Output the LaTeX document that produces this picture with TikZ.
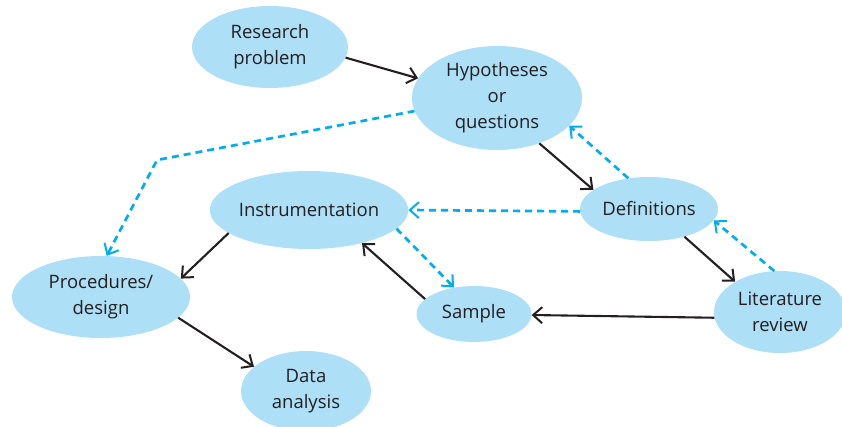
\documentclass[tikz,border=0pt]{standalone}
\usepackage{fontspec}
\setmainfont{Open Sans}
\usetikzlibrary{arrows.meta,shapes.geometric}
\definecolor{bubble}{HTML}{ADDFF7}
\definecolor{dashblue}{HTML}{00AEEF}
\definecolor{ink}{HTML}{231F20}
\tikzset{
  bub/.style={ellipse, fill=bubble, draw=none, inner sep=0pt, align=center,
    text=ink, font=\fontsize{18.5}{26}\selectfont},
  solidarrow/.style={draw=ink, line width=2.1pt,
    -{Straight Barb[length=9pt,width=16pt,line width=2pt]}},
  dasharrow/.style={draw=dashblue, line width=2.7pt, dash pattern=on 7pt off 5pt,
    -{Straight Barb[length=9pt,width=16pt,line width=2pt]}},
}
\begin{document}
\begin{tikzpicture}[x=1pt,y=-1pt]
\useasboundingbox (0,0) rectangle (842,426);
\clip (0,0) rectangle (842,426);
\node[bub, minimum width=156pt, minimum height=82pt] (res) at (270,47) {Research\\problem};
\node[bub, minimum width=170pt, minimum height=104pt] (hyp) at (497,98) {Hypotheses\\or\\questions};
\node[bub, minimum width=138pt, minimum height=64pt] (def) at (649,209) {Definitions};
\node[bub, minimum width=132pt, minimum height=82pt] (lit) at (780,312) {Literature\\review};
\node[bub, minimum width=115pt, minimum height=56pt] (sam) at (474,314) {Sample};
\node[bub, minimum width=184pt, minimum height=78pt] (ins) at (309,210) {Instrumentation};
\node[bub, minimum width=178pt, minimum height=82pt] (pro) at (101,297) {Procedures/\\design};
\node[bub, minimum width=130pt, minimum height=80pt] (dat) at (306,391) {Data\\analysis};
\coordinate (bend) at (157,160);
% solid arrows
\draw[solidarrow] (res.352.6) -- (hyp.166.6);
\draw[solidarrow] (hyp.313.7) -- (def.161);
\draw[solidarrow] (def.322.9) -- (lit.146.9);
\draw[solidarrow] (lit.185.4) -- (sam.359);
\draw[solidarrow] (sam.163.2) -- (ins.328.6);
\draw[solidarrow] (ins.196) -- (pro.13.9);
\draw[solidarrow] (pro.345.6) -- (dat.155.2);
% dashed arrows
\draw[dasharrow] (def.124.5) -- (hyp.339.1);
\draw[dasharrow] (lit.98.7) -- (def.350.8);
\draw[dasharrow] (def.182.5) -- (ins.0.6);
\draw[dasharrow] (ins.348.6) -- (sam.127.2);
\draw[dasharrow] (hyp.189.7) -- (bend) -- (pro.82.2);
\end{tikzpicture}
\end{document}
